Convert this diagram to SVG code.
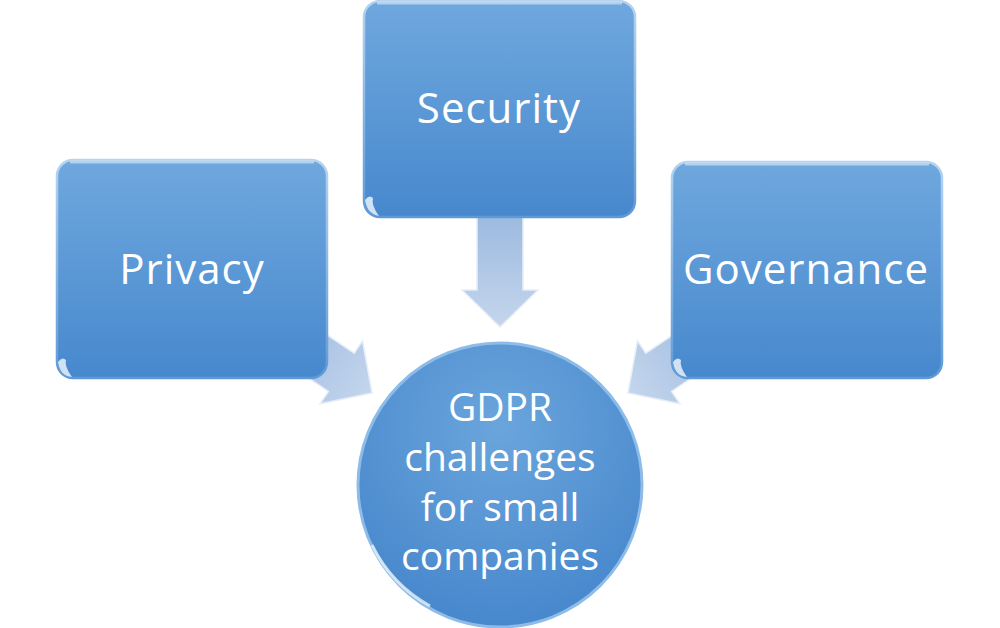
<svg xmlns="http://www.w3.org/2000/svg" width="1000" height="628" viewBox="0 0 1000 628">
<defs>
<linearGradient id="boxg" x1="0" y1="0" x2="0" y2="1">
<stop offset="0" stop-color="#6fa8de"/>
<stop offset="1" stop-color="#4788cd"/>
</linearGradient>
<linearGradient id="rim" x1="0" y1="0" x2="0" y2="1">
<stop offset="0" stop-color="#b6d4f0"/>
<stop offset="1" stop-color="#5f9ad6"/>
</linearGradient>
<radialGradient id="circg" cx="0.5" cy="0.3" r="0.75">
<stop offset="0" stop-color="#6aa5dc"/>
<stop offset="1" stop-color="#4585cb"/>
</radialGradient>
<linearGradient id="arrg" x1="0" y1="0" x2="0" y2="1">
<stop offset="0" stop-color="#9bb9df"/>
<stop offset="1" stop-color="#c5d6ed"/>
</linearGradient>
<path id="arrow" d="M0,0 L-38,-37 L-23,-37 L-23,-115 L23,-115 L23,-37 L38,-37 Z"/>
<style>
.box{fill:url(#boxg);stroke:url(#rim);stroke-width:2.5}
.lbl{font-family:"Open Sans","Liberation Sans",sans-serif;font-size:42px;letter-spacing:1px;fill:#ffffff;text-anchor:middle}
.ctext{font-family:"Open Sans","Liberation Sans",sans-serif;font-size:39px;fill:#ffffff;text-anchor:middle}
.arr{fill:url(#arrg);stroke:#e6eef8;stroke-width:1.5}
.hl{fill:#e8f2fb;opacity:0.85}
</style>
</defs>
<rect width="1000" height="628" fill="#ffffff"/>
<g id="connectors">
<use href="#arrow" class="arr" transform="translate(372,393) rotate(-56)"/>
<use href="#arrow" class="arr" transform="translate(628,393) rotate(56)"/>
<use href="#arrow" class="arr" transform="translate(500,327)"/>
</g>
<g id="privacy">
<rect class="box" x="57" y="160" width="270" height="218" rx="16"/>
<path d="M70,162 H314" stroke="#cfe3f6" stroke-width="3" opacity="0.7"/>
<path class="hl" d="M58,362 Q60,376 72,377 Q64,366 66,360 Q62,356 58,362 Z"/>
<text class="lbl" x="192" y="284">Privacy</text>
</g>
<g id="security">
<rect class="box" x="364" y="1" width="271" height="216" rx="16"/>
<path d="M377,3 H622" stroke="#cfe3f6" stroke-width="3" opacity="0.7"/>
<path class="hl" d="M365,200 Q367,214 379,216 Q371,205 373,198 Q369,194 365,200 Z"/>
<text class="lbl" x="499" y="123">Security</text>
</g>
<g id="governance">
<rect class="box" x="672" y="162" width="270" height="216" rx="16"/>
<path d="M685,164 H929" stroke="#cfe3f6" stroke-width="3" opacity="0.7"/>
<path class="hl" d="M673,362 Q675,376 687,377 Q679,366 681,360 Q677,356 673,362 Z"/>
<text class="lbl" x="806" y="284">Governance</text>
</g>
<g id="gdpr">
<circle cx="500" cy="485" r="142" fill="url(#circg)" stroke="#8ebce8" stroke-width="3"/>
<path d="M372,545 A140,140 0 0 0 430,606" fill="none" stroke="#e8f2fb" stroke-width="3" opacity="0.8"/>
<text class="ctext"><tspan x="500" y="421">GDPR</tspan><tspan x="500" y="471">challenges</tspan><tspan x="500" y="521">for small</tspan><tspan x="500" y="570">companies</tspan></text>
</g>
</svg>
